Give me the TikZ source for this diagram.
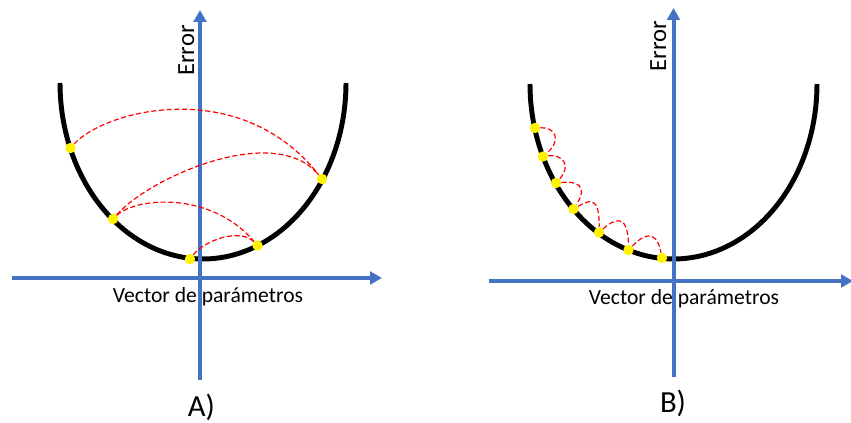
\documentclass[tikz,border=0pt]{standalone}
\usepackage{fontspec}
\setmainfont{Carlito}
\usetikzlibrary{arrows.meta}
\definecolor{axblue}{HTML}{4472C4}
\tikzset{
  axis/.style={draw=axblue, line width=3pt, -{Triangle[length=9pt,width=9.5pt]}},
  bowl/.style={draw=black, line width=3.7pt},
  jump/.style={draw=red, line width=0.9pt, dash pattern=on 3.8pt off 2pt},
  dot/.style={circle, fill=yellow, draw=none, inner sep=0pt, minimum size=7.8pt},
  xlab/.style={font=\fontsize{16.2}{19}\selectfont, anchor=base, inner sep=0pt},
  ylab/.style={font=\fontsize{18.5}{22}\selectfont, rotate=90, anchor=base, inner sep=0pt},
  plab/.style={font=\fontsize{23}{27}\selectfont, anchor=base, inner sep=0pt}
}
\begin{document}
\begin{tikzpicture}[x=0.75pt,y=-0.75pt]
\useasboundingbox (0,0) rectangle (851,423);
% labels (under the axes)
\node[xlab] (xa) at (208,302.5) {Vector de parámetros};
\node[xlab] (xb) at (684,305) {Vector de parámetros};
\node[ylab] (ya) at (194,50.5) {Error};
\node[ylab] (yb) at (666,46) {Error};
\node[plab] (pa) at (201.5,417) {A)};
\node[plab] (pb) at (673,412.5) {B)};
% error curves
\draw[bowl] plot[domain=180:360, samples=90] ({203+143*cos(\x)}, {83-176*sin(\x)});
\draw[bowl] plot[domain=180:360, samples=90] ({673.5+143.5*cos(\x)}, {84-175*sin(\x)});
% axes A
\coordinate (axl) at (12,278);
\coordinate (axr) at (382,278);
\coordinate (ayb) at (200,380);
\coordinate (ayt) at (200,10);
\draw[axis] (axl) -- (axr);
\draw[axis] (ayb) -- (ayt);
% axes B
\coordinate (bxl) at (489,281);
\coordinate (bxr) at (853,281);
\coordinate (byb) at (673.5,377);
\coordinate (byt) at (673.5,8);
\draw[axis] (bxl) -- (bxr);
\draw[axis] (byb) -- (byt);
% dots A
\node[dot] (a1) at (70.5,148) {};
\node[dot] (a2) at (113,219) {};
\node[dot] (a3) at (190,259) {};
\node[dot] (a4) at (257.5,245.5) {};
\node[dot] (a5) at (322,179) {};
% jumps A
\draw[jump] (a1) .. controls (105,110) and (240,75) .. (a5);
\draw[jump] (a2) .. controls (150,177) and (275,122) .. (a5);
\draw[jump] (a2) .. controls (135,198) and (210,190) .. (a4);
\draw[jump] (a3) .. controls (205,240) and (240,228) .. (a4);
% dots B
\node[dot] (b1) at (535,128) {};
\node[dot] (b2) at (543,156.5) {};
\node[dot] (b3) at (556,183) {};
\node[dot] (b4) at (573.5,209) {};
\node[dot] (b5) at (599,232.5) {};
\node[dot] (b6) at (628.5,250) {};
\node[dot] (b7) at (662,258) {};
% jumps B
\draw[jump] (b1) .. controls (555,127) and (562,140) .. (b2);
\draw[jump] (b2) .. controls (562,154) and (572,165) .. (b3);
\draw[jump] (b3) .. controls (576,181) and (589,185) .. (b4);
\draw[jump] (b4) .. controls (586,202) and (600,192) .. (b5);
\draw[jump] (b5) .. controls (612,221) and (628,210) .. (b6);
\draw[jump] (b6) .. controls (641,237) and (656,226) .. (b7);
\end{tikzpicture}
\end{document}
